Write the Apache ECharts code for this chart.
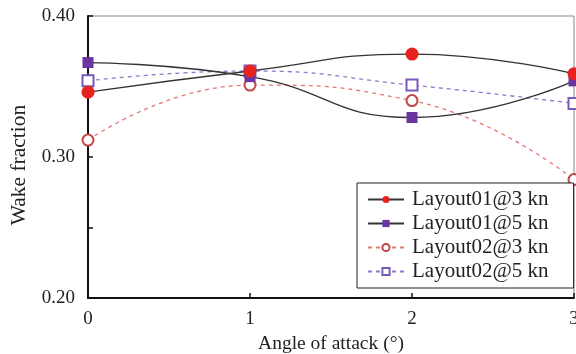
<!DOCTYPE html>
<html><head><meta charset="utf-8">
<script src="https://cdn.jsdelivr.net/npm/echarts@6/dist/echarts.min.js"></script>
<style>html,body{margin:0;padding:0;background:#fff}#c{width:576px;height:354px}</style>
</head><body><div id="c"></div>
<script>
const angles = [0, 1, 2, 3];
const layout01_3kn = [0.346, 0.361, 0.373, 0.359];
const layout01_5kn = [0.367, 0.357, 0.328, 0.354];
const layout02_3kn = [0.312, 0.351, 0.340, 0.284];
const layout02_5kn = [0.354, 0.361, 0.351, 0.338];
const seriesNames = ['Layout01@3 kn', 'Layout01@5 kn', 'Layout02@3 kn', 'Layout02@5 kn'];
const yTickLabels = ['0.20', '0.30', '0.40'];

const font = 'Liberation Serif, Times New Roman, serif';
const pair = (ys) => angles.map((x, i) => [x, ys[i]]);

const chart = echarts.init(document.getElementById('c'), null, {renderer: 'canvas'});
chart.setOption({
  animation: false,
  backgroundColor: '#fff',
  grid: {left: 88, right: 2, top: 16, bottom: 56, show: true, borderColor: '#888', borderWidth: 1,
         outerBoundsMode: 'none', containLabel: false},
  legend: {
    orient: 'vertical', left: 357, top: 183,
    padding: [6, 25, 6, 10], itemGap: 3, itemWidth: 36, itemHeight: 9,
    backgroundColor: '#fff', borderColor: '#222', borderWidth: 1,
    textStyle: {fontFamily: font, fontSize: 21, color: '#222', padding: [0, 0, 0, 3]},
    data: seriesNames
  },
  xAxis: {
    type: 'value', min: 0, max: 3, interval: 1,
    name: 'Angle of attack (°)', nameLocation: 'middle', nameGap: 36,
    nameTextStyle: {fontFamily: font, fontSize: 19.5, color: '#222'},
    axisLine: {lineStyle: {color: '#111', width: 2}},
    axisTick: {inside: true, length: 5, lineStyle: {color: '#111', width: 1.5}},
    axisLabel: {fontFamily: font, fontSize: 19, color: '#222', margin: 12},
    splitLine: {show: false}
  },
  yAxis: {
    type: 'value', min: 0.20, max: 0.40, interval: 0.05,
    name: 'Wake fraction', nameLocation: 'middle', nameGap: 58,
    nameTextStyle: {fontFamily: font, fontSize: 21.5, color: '#222', padding: [0, 16, 0, 0]},
    axisLine: {show: true, lineStyle: {color: '#111', width: 2}},
    axisTick: {show: true, inside: true, length: 5, lineStyle: {color: '#111', width: 1.5}},
    axisLabel: {fontFamily: font, fontSize: 19, color: '#222', margin: 13,
      formatter: (v) => { const s = v.toFixed(2); return yTickLabels.indexOf(s) >= 0 ? s : ''; }},
    splitLine: {show: false}
  },
  series: [
    {name: seriesNames[0], type: 'line', data: pair(layout01_3kn), smooth: 0.5,
     symbol: 'circle', symbolSize: 13, z: 5,
     itemStyle: {color: '#e8231f'}, lineStyle: {color: '#333', width: 1.3}},
    {name: seriesNames[1], type: 'line', data: pair(layout01_5kn), smooth: 0.5,
     symbol: 'rect', symbolSize: 11, z: 4,
     itemStyle: {color: '#6a35a0'}, lineStyle: {color: '#333', width: 1.3}},
    {name: seriesNames[2], type: 'line', data: pair(layout02_3kn), smooth: 0.5,
     symbol: 'emptyCircle', symbolSize: 11, z: 3,
     itemStyle: {color: '#c04848', borderWidth: 2},
     lineStyle: {color: '#e07a72', width: 1.3, type: [4, 4]}},
    {name: seriesNames[3], type: 'line', data: pair(layout02_5kn), smooth: 0.5,
     symbol: 'emptyRect', symbolSize: 11, z: 3,
     itemStyle: {color: '#7a5ab8', borderWidth: 2},
     lineStyle: {color: '#8c78d0', width: 1.3, type: [4, 4]}}
  ]
});
</script></body></html>
